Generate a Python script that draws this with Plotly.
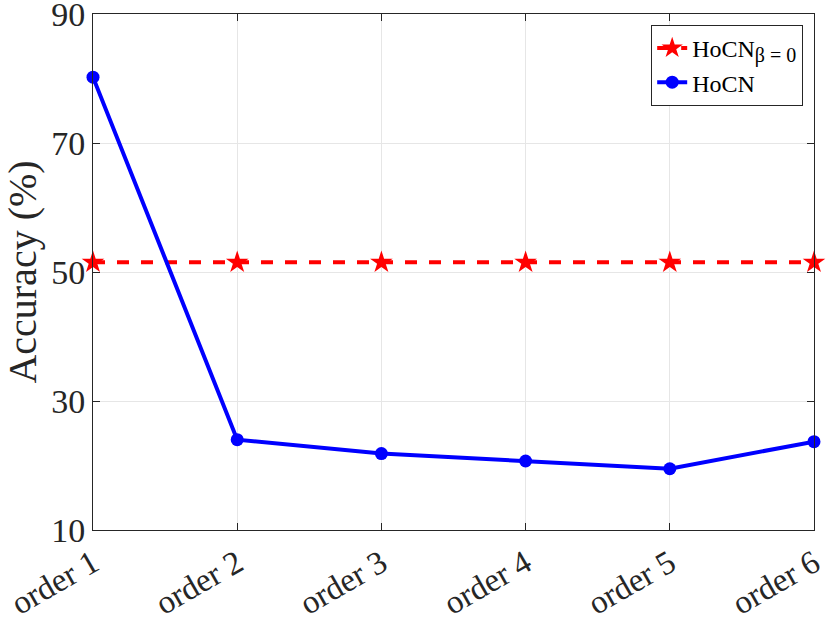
import plotly.graph_objects as go

orders = ["order 1", "order 2", "order 3", "order 4", "order 5", "order 6"]
hocn_beta0 = [51.5, 51.5, 51.5, 51.5, 51.5, 51.5]
hocn = [80.2, 24.0, 21.85, 20.7, 19.5, 23.7]
y_ticks = [10, 30, 50, 70, 90]

_FONT = "Liberation Serif, Times New Roman, serif"
_AXIS_CLR = "#262626"
_GRID_CLR = "#e6e6e6"

fig = go.Figure()
fig.add_scatter(
    x=orders, y=hocn_beta0,
    name="HoCN<sub><span style='font-size:20px'>β = 0</span></sub>",
    mode="lines+markers",
    line=dict(color="#ff0000", width=4, dash="dash"),
    marker=dict(symbol="star", size=17, color="#ff0000"),
    cliponaxis=False,
)
fig.add_scatter(
    x=orders, y=hocn,
    name="HoCN",
    mode="lines+markers",
    line=dict(color="#0000ff", width=4),
    marker=dict(symbol="circle", size=13, color="#0000ff"),
    cliponaxis=False,
)

axis_common = dict(
    showline=True, linecolor=_AXIS_CLR, linewidth=1, mirror="ticks",
    ticks="inside", ticklen=7, tickcolor=_AXIS_CLR,
    showgrid=True, gridcolor=_GRID_CLR, gridwidth=1,
    zeroline=False, automargin=False, ticklabeloverflow="allow",
)

fig.update_layout(
    width=830, height=621,
    margin=dict(l=93, r=16, t=14, b=91),
    paper_bgcolor="white", plot_bgcolor="white",
    font=dict(family=_FONT, color="#262626"),
    xaxis=dict(
        **axis_common,
        type="category", categoryorder="array", categoryarray=orders,
        range=[0, 5],
        tickangle=-30,
        tickfont=dict(size=33),
    ),
    yaxis=dict(
        **axis_common,
        range=[10, 90],
        tickvals=y_ticks,
        tickfont=dict(size=34),
        title=dict(text="Accuracy (%)", font=dict(size=40), standoff=8),
    ),
    legend=dict(
        x=0.985, y=0.979, xanchor="right", yanchor="top",
        bgcolor="white", bordercolor=_AXIS_CLR, borderwidth=1,
        font=dict(size=24, color="black"),
        tracegroupgap=0,
    ),
)

# drop the default body margin so the figure fills the window exactly
fig.write_html(
    "out.html",
    config={"displayModeBar": False},
    post_script="document.body.style.margin='0';document.body.style.overflow='hidden';",
)
